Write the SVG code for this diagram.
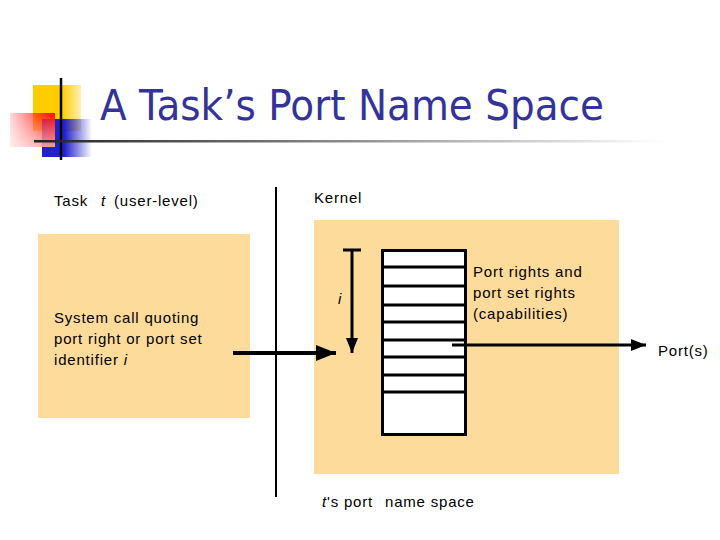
<svg xmlns="http://www.w3.org/2000/svg" width="720" height="540" viewBox="0 0 720 540">
<defs>
<linearGradient id="gRed" x1="0" y1="0" x2="1" y2="0">
<stop offset="0" stop-color="#ff0000" stop-opacity="0.15"/>
<stop offset="1" stop-color="#ff0000" stop-opacity="0.95"/>
</linearGradient>
<linearGradient id="gRed2" x1="0" y1="0" x2="0" y2="1">
<stop offset="0" stop-color="#ffffff" stop-opacity="0"/>
<stop offset="1" stop-color="#ffffff" stop-opacity="0.6"/>
</linearGradient>
<linearGradient id="gBlue" x1="0" y1="0" x2="1" y2="0">
<stop offset="0" stop-color="#2222cc"/>
<stop offset="0.45" stop-color="#2222cc"/>
<stop offset="1" stop-color="#2222cc" stop-opacity="0"/>
</linearGradient>
<linearGradient id="gYel" x1="0" y1="0" x2="1" y2="0">
<stop offset="0" stop-color="#ffcc00"/>
<stop offset="0.6" stop-color="#ffcc00"/>
<stop offset="1" stop-color="#ffcc00" stop-opacity="0.3"/>
</linearGradient>
<linearGradient id="gLine" x1="0" y1="0" x2="1" y2="0">
<stop offset="0" stop-color="#222222"/>
<stop offset="0.4" stop-color="#777777"/>
<stop offset="1" stop-color="#ffffff"/>
</linearGradient>
<marker id="arr" viewBox="0 0 10 10" refX="10" refY="5" markerWidth="5" markerHeight="5" orient="auto" markerUnits="strokeWidth">
<path d="M0,1 L10,5 L0,9 Z" fill="#000"/>
</marker>
<style>
.t{font-family:"Liberation Sans",Arial,sans-serif;font-size:15px;fill:#000;letter-spacing:0.8px}
.box{fill:#FDDB9B}
.ln{stroke:#000;fill:none}
</style>
</defs>

<g id="title-decoration">
<rect x="33" y="85" width="48" height="46" fill="url(#gYel)"/>
<rect x="42" y="119" width="50" height="38" fill="url(#gBlue)"/>
<rect x="10" y="113" width="45" height="34" fill="url(#gRed)"/>
<rect x="10" y="113" width="45" height="34" fill="url(#gRed2)"/>
<line x1="61" y1="78" x2="61" y2="160" stroke="#000" stroke-width="2.5"/>
<rect x="34" y="140" width="630" height="2.5" fill="url(#gLine)"/>
</g>
<text id="title" x="100" y="120" font-family="Tahoma,'DejaVu Sans','Liberation Sans',sans-serif" font-size="42" fill="#333399" textLength="504" lengthAdjust="spacingAndGlyphs">A Task’s Port Name Space</text>

<g id="user-box">
<rect class="box" x="38" y="234" width="212" height="184"/>
<text class="t" x="54" y="323">System call quoting</text>
<text class="t" x="54" y="344">port right or port set</text>
<text class="t" x="54" y="365">identifier <tspan font-style="italic">i</tspan></text>
</g>
<text id="task-label" class="t" x="54" y="206">Task<tspan x="101" font-style="italic">t</tspan><tspan x="114">(user-level)</tspan></text>

<g id="kernel-box">
<rect class="box" x="314" y="220" width="305" height="254"/>
</g>
<text id="kernel-label" class="t" x="314" y="203">Kernel</text>

<g id="port-table">
<rect x="382.5" y="250.5" width="83" height="184" fill="#fff" stroke="#000" stroke-width="3"/>
<g class="ln" stroke-width="3">
<line x1="382" y1="267" x2="466" y2="267"/>
<line x1="382" y1="286" x2="466" y2="286"/>
<line x1="382" y1="305" x2="466" y2="305"/>
<line x1="382" y1="322" x2="466" y2="322"/>
<line x1="382" y1="340" x2="466" y2="340"/>
<line x1="382" y1="357" x2="466" y2="357"/>
<line x1="382" y1="375" x2="466" y2="375"/>
<line x1="382" y1="392" x2="466" y2="392"/>
</g>
<text class="t" x="473" y="277">Port rights and</text>
<text class="t" x="473" y="298">port set rights</text>
<text class="t" x="473" y="319">(capabilities)</text>
</g>
<text id="ns-label" class="t" x="322" y="507"><tspan font-style="italic">t</tspan>'s port<tspan x="385">name space</tspan></text>
<text id="ports-label" class="t" x="658" y="356">Port(s)</text>
<text id="i-label" class="t" x="338" y="304" font-style="italic">i</text>

<g id="connectors">
<line class="ln" x1="276" y1="187" x2="276" y2="497" stroke-width="2"/>
<line class="ln" x1="233" y1="353" x2="336" y2="353" stroke-width="4" marker-end="url(#arr)"/>
<line class="ln" x1="343" y1="250" x2="361" y2="250" stroke-width="3"/>
<line class="ln" x1="352" y1="250" x2="352" y2="353" stroke-width="3" marker-end="url(#arr)"/>
<line class="ln" x1="452" y1="345" x2="646" y2="345" stroke-width="3" marker-end="url(#arr)"/>
</g>
</svg>
